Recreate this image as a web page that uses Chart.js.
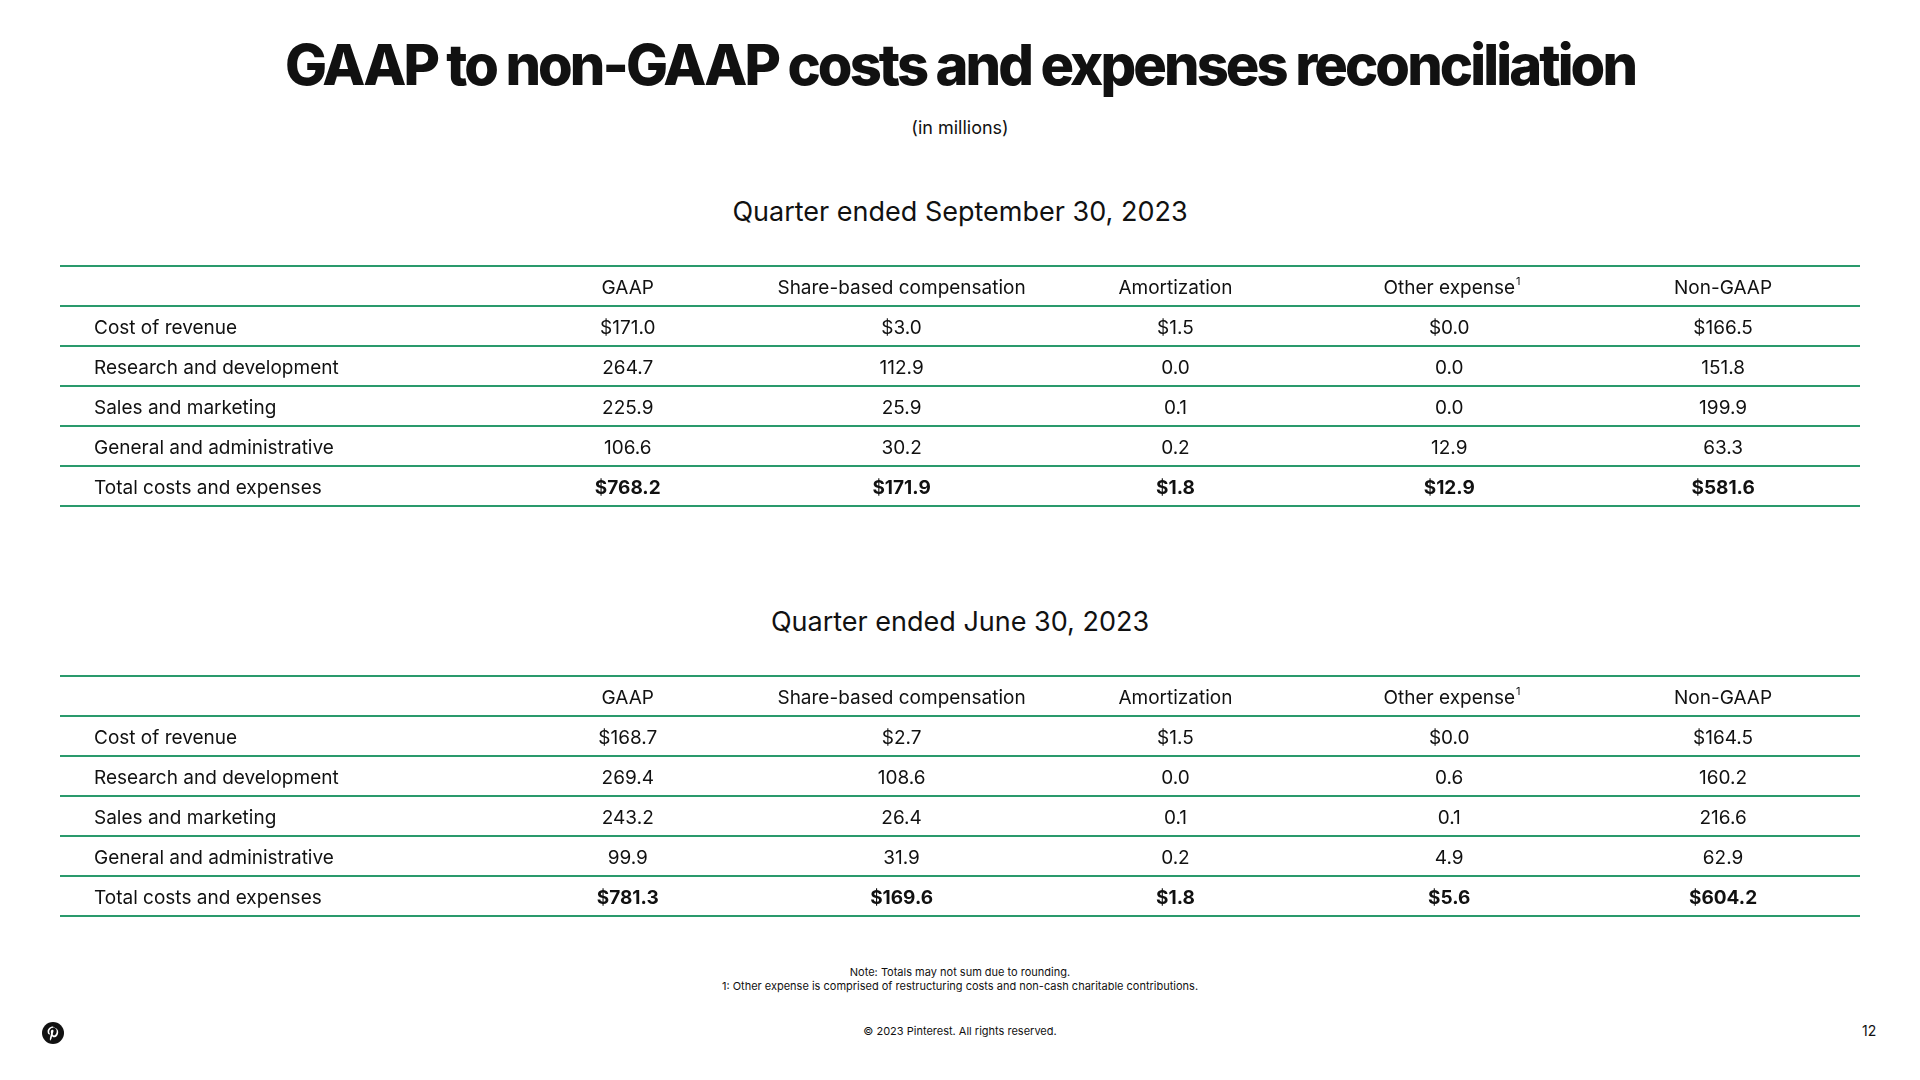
<!DOCTYPE html>
<html><head><meta charset="utf-8">
<script src="https://cdn.jsdelivr.net/npm/chart.js@4"></script>
<style>
body{margin:0;width:1920px;height:1080px;background:#fff;font-family:Inter,"Noto Sans",sans-serif;color:#111;position:relative;overflow:hidden}
.t{position:absolute;left:0;width:1920px;text-align:center}
#title{top:31px;font-size:56px;font-weight:800;letter-spacing:-2.9px}
#sub{top:117px;font-size:18px}
.q{font-size:27px}
.box{position:absolute;left:0;width:1920px;height:244px}
.note{font-size:11px}
</style></head><body>
<div class="t" id="title">GAAP to non-GAAP costs and expenses reconciliation</div>
<div class="t" id="sub">(in millions)</div>
<div class="t q" style="top:195px">Quarter ended September 30, 2023</div>
<div class="box" style="top:264px"><canvas id="c1"></canvas></div>
<div class="t q" style="top:605px">Quarter ended June 30, 2023</div>
<div class="box" style="top:674px"><canvas id="c2"></canvas></div>
<div class="t note" style="top:965px">Note: Totals may not sum due to rounding.<br>1: Other expense is comprised of restructuring costs and non-cash charitable contributions.</div>
<div class="t note" style="top:1024px">© 2023 Pinterest. All rights reserved.</div>
<div style="position:absolute;left:1862px;top:1022px;font-size:14px">12</div>
<svg style="position:absolute;left:41px;top:1021px" width="24" height="24" viewBox="0 0 24 24"><circle cx="12" cy="12" r="11" fill="#111"/><path d="M12.3 5.5c-3.8 0-5.7 2.700-5.7 5 0 1.4.5 2.6 1.6 3.1.2.1.4 0 .4-.2l.2-.6c.1-.2 0-.3-.1-.5-.3-.4-.5-.9-.5-1.6 0-2.1 1.6-3.9 4.100-3.900 2.200 0 3.400 1.400 3.400 3.200 0 2.400-1.100 4.400-2.600 4.400-.9 0-1.500-.7-1.300-1.600.2-1 .7-2.200.7-2.900 0-.7-.4-1.200-1.100-1.200-.9 0-1.600.9-1.600 2.200 0 .8.3 1.300.3 1.300l-1.100 4.600c-.2.9-.1 2.100 0 2.700l.3.1c.3-.4 1.100-1.500 1.300-2.300l.5-2c.3.5 1.100 1 1.900 1 2.500 0 4.200-2.300 4.200-5.300 0-2.300-2-4.500-4.900-4.500z" fill="#fff"/></svg>
<script>
const columns = ['GAAP','Share-based compensation','Amortization','Other expense','Non-GAAP'];
const rowLabels = ['Cost of revenue','Research and development','Sales and marketing','General and administrative','Total costs and expenses'];
const sepGAAP = ['$171.0','264.7','225.9','106.6','$768.2'];
const sepSBC = ['$3.0','112.9','25.9','30.2','$171.9'];
const sepAmort = ['$1.5','0.0','0.1','0.2','$1.8'];
const sepOther = ['$0.0','0.0','0.0','12.9','$12.9'];
const sepNon = ['$166.5','151.8','199.9','63.3','$581.6'];
const junGAAP = ['$168.7','269.4','243.2','99.9','$781.3'];
const junSBC = ['$2.7','108.6','26.4','31.9','$169.6'];
const junAmort = ['$1.5','0.0','0.1','0.2','$1.8'];
const junOther = ['$0.0','0.6','0.1','4.9','$5.6'];
const junNon = ['$164.5','160.2','216.6','62.9','$604.2'];

const GREEN = '#2a9a6c';
const FONT = 'Inter, "Noto Sans", sans-serif';

function makeTable(id, cols){
  const ylabels = ['header', ...rowLabels];
  const plugin = {
    id:'cells',
    afterDraw(chart){
      const ctx = chart.ctx, xs = chart.scales.x, ys = chart.scales.y;
      ctx.save();
      ctx.strokeStyle = GREEN; ctx.lineWidth = 2;
      for(let i=0;i<=ylabels.length;i++){
        const y = Math.round(ys.getPixelForValue(i - 0.5));
        ctx.beginPath(); ctx.moveTo(60,y); ctx.lineTo(1860,y); ctx.stroke();
      }
      ctx.fillStyle = '#111'; ctx.textBaseline = 'middle';
      const off = 2;
      const hy = ys.getPixelForValue(0) + off;
      ctx.font = '19px '+FONT; ctx.textAlign = 'center';
      columns.forEach((c,j)=>{
        const x = xs.getPixelForValue(j+1);
        ctx.fillText(c, x, hy);
        if(c==='Other expense'){
          const w = ctx.measureText(c).width;
          ctx.font = '11px '+FONT; ctx.textAlign='left';
          ctx.fillText('1', x + w/2 + 1, hy - 6);
          ctx.font = '19px '+FONT; ctx.textAlign='center';
        }
      });
      rowLabels.forEach((r,i)=>{
        const y = ys.getPixelForValue(i+1) + off;
        const bold = i === rowLabels.length-1;
        ctx.font = '19px '+FONT; ctx.textAlign='left';
        ctx.fillText(r, 94, y);
        ctx.font = (bold?'bold ':'')+'19px '+FONT; ctx.textAlign='center';
        cols.forEach((arr,j)=>ctx.fillText(arr[i], xs.getPixelForValue(j+1), y));
      });
      ctx.restore();
    }
  };
  new Chart(document.getElementById(id), {
    type:'bar',
    data:{labels:['label',...columns], datasets:[{data:[]}]},
    options:{
      responsive:true, maintainAspectRatio:false, animation:false,
      layout:{padding:{left:217, right:60, top:2, bottom:2}},
      plugins:{legend:{display:false}, tooltip:{enabled:false}},
      scales:{
        x:{type:'category', display:false, offset:true},
        y:{type:'category', labels:ylabels, display:false, offset:true}
      }
    },
    plugins:[plugin]
  });
}
makeTable('c1',[sepGAAP,sepSBC,sepAmort,sepOther,sepNon]);
makeTable('c2',[junGAAP,junSBC,junAmort,junOther,junNon]);
</script>
</body></html>
